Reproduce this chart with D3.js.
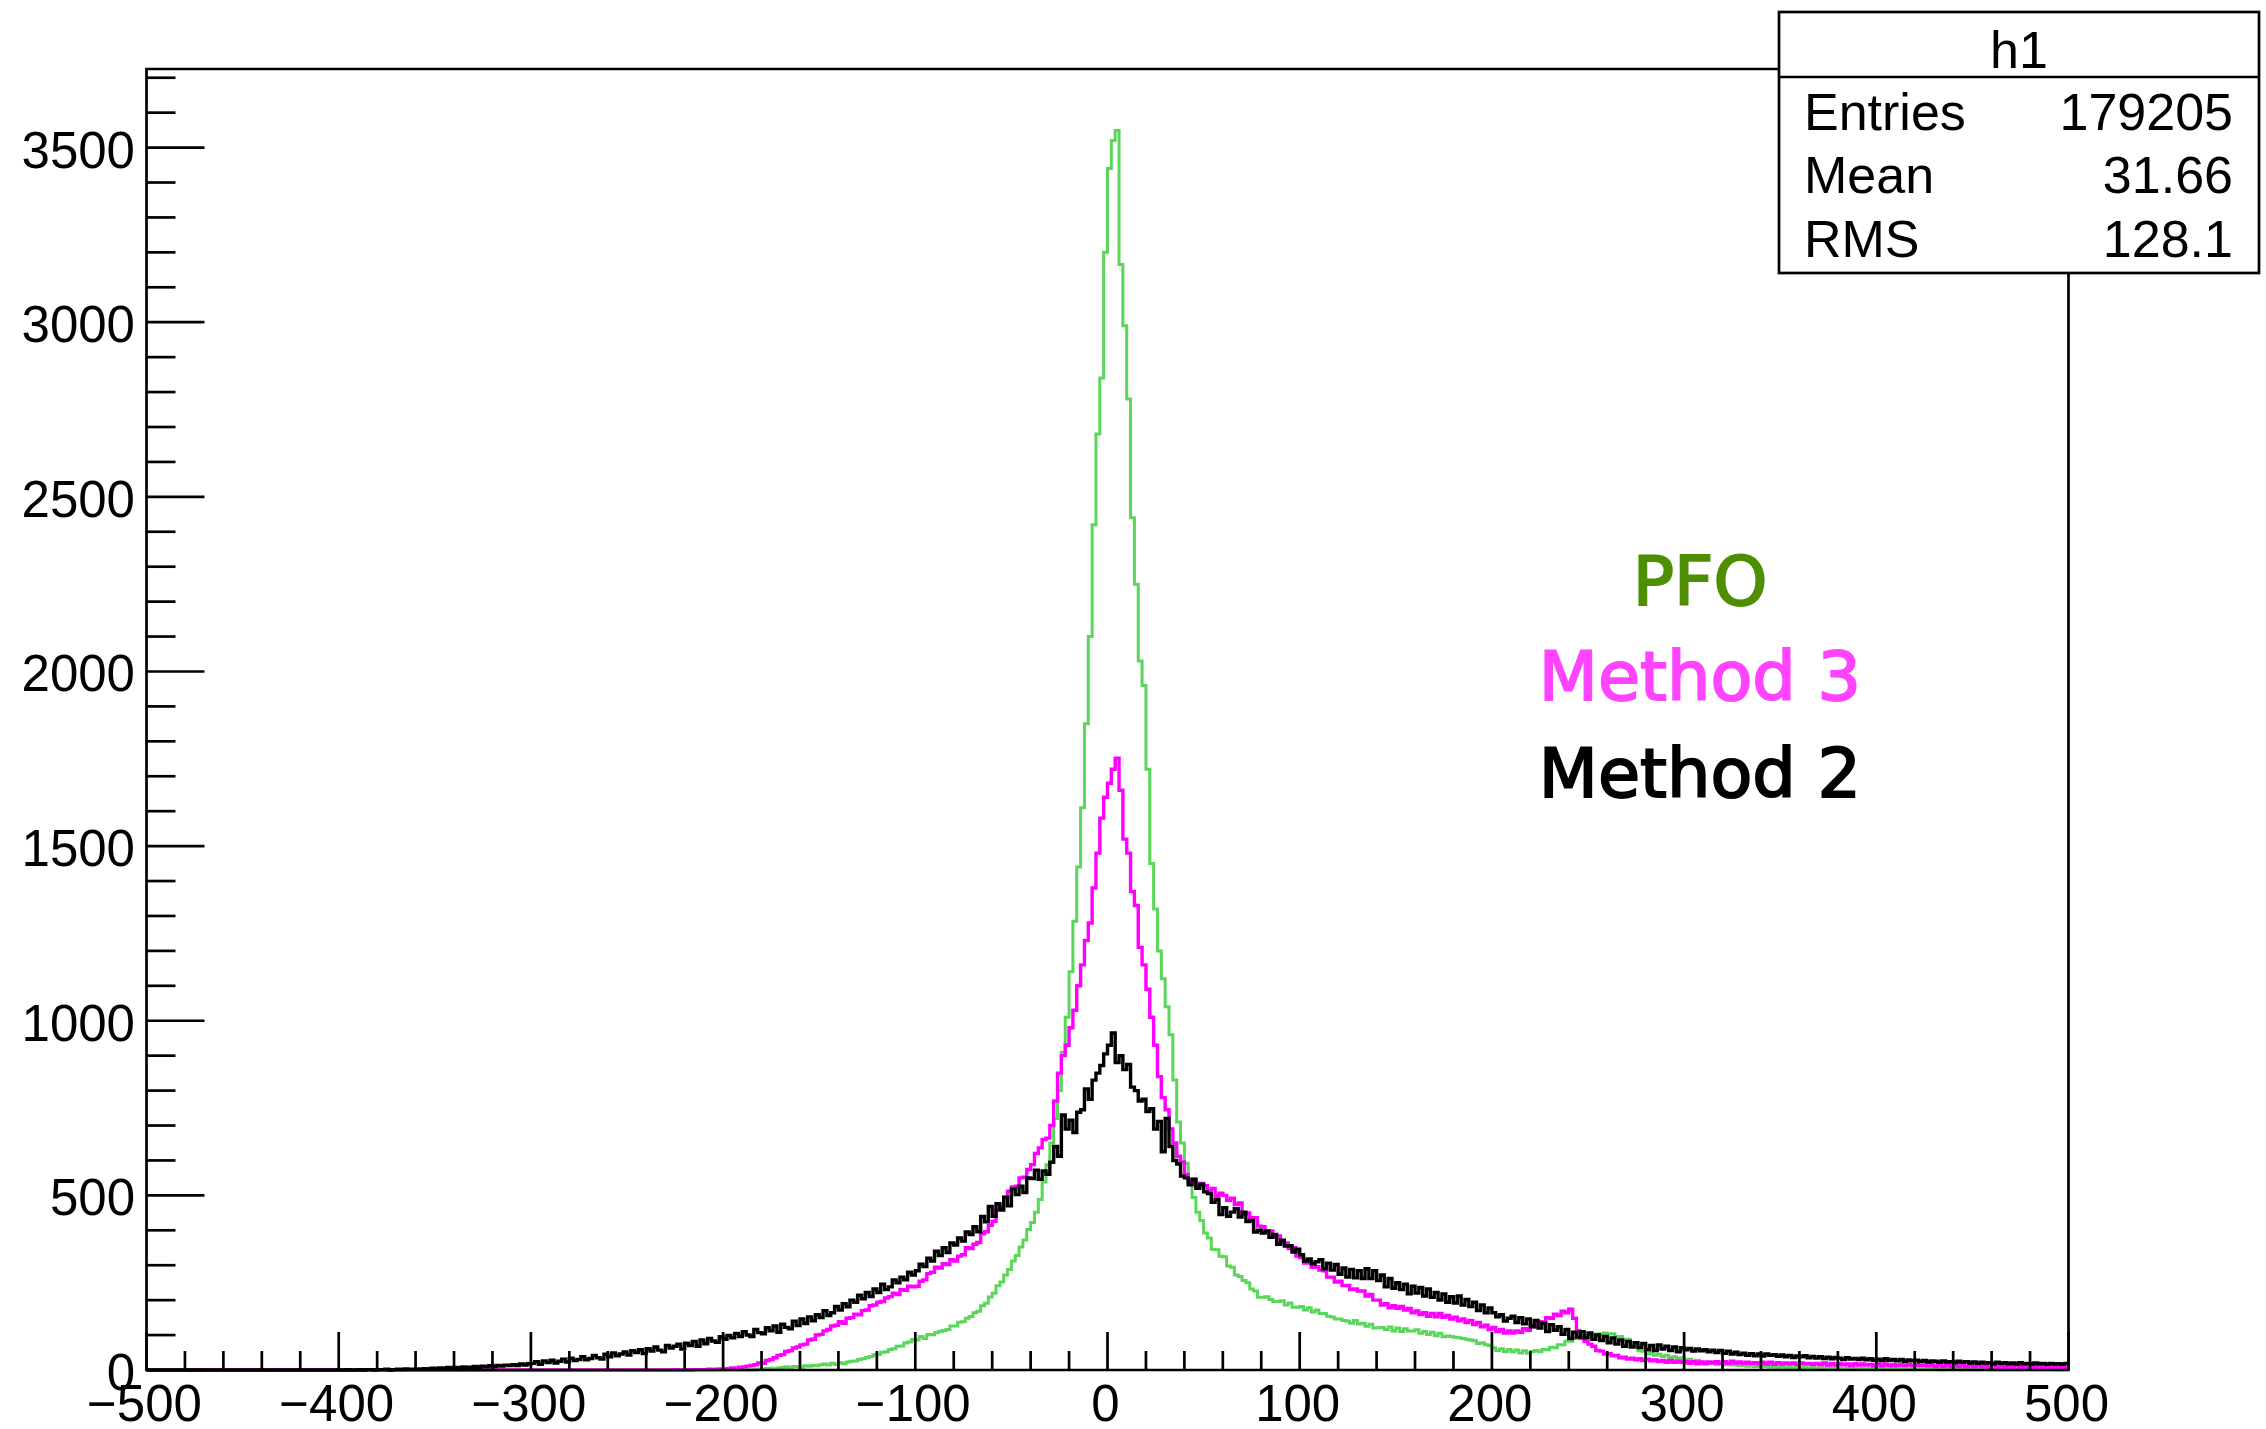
<!DOCTYPE html>
<html>
<head>
<meta charset="utf-8">
<script src="https://cdn.jsdelivr.net/npm/d3@7"></script>
<style>
  html, body { margin: 0; padding: 0; background: #fff; }
  svg { display: block; }
</style>
</head>
<body>
<svg id="chart" width="2266" height="1429"></svg>
<script>
// ---- histogram binning ----
const binWidth = 2;
const xRange = [-500, 500];
const yTop = 3725;

// axis ticks
const xMajorTicks = [-500, -400, -300, -200, -100, 0, 100, 200, 300, 400, 500];
const yMajorTicks = [0, 500, 1000, 1500, 2000, 2500, 3000, 3500];

// ---- PFO (green), first bin starts at pfoStart ----
const pfoStart = -190;
const pfoCounts = [
  0,1,0,2,3, 2,4,5,3,6, 7,9,6,10,9, 8,12,11,13,12, 15,17,14,19,16, 21,18,23,25,26, 30,32,36,39,44, 45,51,52,59,61, 68,69,77,80,87,
  86,96,90,102,101, 107,110,113,116,126, 126,137,138,148,153, 164,168,184,191,209, 220,241,252,272,288, 312,328,352,372,402, 422,452,488,538,588,
  650,720,800,910,1010, 1140,1285,1440,1610,1850, 2100,2420,2680,2840,3200,
  3440,3520,3549,3165,2990, 2780,2440,2250,2030,1960, 1720,1450,1320,1200,1120, 1040,960,830,710,650,
  592,536,494,452,428, 392,378,346,344,326, 324,298,294,272,268, 256,250,232,226,208, 208,210,202,196,196, 198,186,192,180,180,
  182,172,178,166,172, 162,162,154,152,146, 146,142,140,134,142, 132,134,125,131,120, 121,122,116,123,112,
  120,110,118,112,112, 115,105,110,102,108, 98,105,95,97,96, 94,92,90,88,86, 84,76,78,72,70,
  64,56,61,53,59, 52,57,49,55,48, 53,56,52,59,58, 65,64,72,72,82, 82,90,90,97,96,
  102,101,103,104,106, 103,104,96,96,88, 88,76,70,55,54, 46,48,42,45,39, 42,36,38,33,35,
  29,31,25,28,22, 23,19,22,16,18, 15,16,14,15,12, 13,11,12,10,11, 9,10,8,9,7,
  9,6,8,6,7, 6,7,5,7,5, 6,4,6,4,5, 5,3,5,4,4, 3,4,3,4,4,
  3,4,2,3,4, 2,3,3,2,3, 3,2,2,2,2, 2,3,1,2,2, 2,2,1,2,1,
  2,1,2,2,1, 1,2,1,1,2, 1,1,1,2,1, 1,1,1,1,1, 1,1,0,1,1
];

// ---- Method 3 (magenta) ----
const method3Start = -230;
const method3Counts = [
  0,0,1,0,0, 1,0,1,1,1, 1,2,1,2,3,
  3,4,6,5,8, 9,11,13,15,20, 19,27,30,35,42, 44,53,55,63,66, 72,74,86,88,100,
  102,112,116,126,128, 138,134,148,150,160, 158,170,172,184,186, 194,196,206,210,220, 216,230,228,240,238,
  240,254,258,276,280, 294,292,304,302,316, 312,326,330,350,348, 360,365,390,396,414, 426,460,466,494,512,
  524,526,550,552,574, 588,620,636,660,664, 700,770,850,900,930, 980,1030,1100,1160,1230, 1280,1380,1480,1580,1640,
  1680,1720,1752,1660,1520, 1480,1370,1330,1210,1160, 1090,1010,930,840,780, 745,690,650,612,596, 560,540,548,526,534,
  528,512,520,498,506, 500,486,492,474,478, 446,450,436,436,412, 410,396,398,380,384, 366,364,348,350,326,
  322,306,308,294,296, 286,284,266,266,252, 254,242,242,230,232, 226,226,212,216,200, 200,186,190,178,184,
  177,182,172,176,164, 169,159,164,154,162, 152,162,151,156,146, 151,141,146,136,142, 130,136,124,128,116,
  122,110,116,106,112, 106,112,108,118,114, 128,124,138,136,150, 148,160,156,168,164, 174,148,112,90,82,
  74,68,56,54,46, 47,41,42,35,37, 31,34,29,32,27, 31,26,29,24,27, 22,27,22,25,22,
  24,19,24,18,23, 18,23,20,24,19, 24,19,25,20,23, 19,22,19,21,18, 22,17,22,16,21,
  17,20,17,20,16, 20,17,19,16,19, 15,20,14,19,14, 18,15,17,13,18, 14,17,14,16,12,
  17,12,17,12,16, 12,15,12,16,12, 15,12,14,11,15, 10,15,10,15,10, 14,10,14,9,14,
  9,14,9,12,8, 13,8,13,8,12, 8,13,8,11,8, 11,7,12,7,11, 7,11,7,10,6
];

// ---- Method 2 (black) ----
const method2Start = -400;
const method2Counts = [
  0,0,1,0,0, 1,0,1,1,0, 1,1,2,0,1, 2,1,3,2,2, 3,2,4,2,5, 4,6,4,7,5, 7,6,9,7,8, 10,8,11,9,12, 10,13,11,14,13, 15,13,17,14,18,
  19,24,16,26,21, 28,20,25,31,23, 34,27,30,38,29, 33,42,35,31,45, 38,49,41,46,52, 43,55,50,58,47, 61,54,66,57,52, 70,63,68,74,60, 77,70,82,68,86, 75,90,83,79,95,
  88,99,92,105,96, 110,100,96,116,107, 104,121,112,126,108, 131,122,118,140,127, 146,133,152,141,158, 150,170,156,164,182, 172,190,181,200,194, 214,204,222,210,232, 222,246,230,238,258, 250,266,258,280,272,
  284,303,296,320,312, 340,328,350,336,364, 358,378,369,395,388, 410,396,440,424,468, 440,476,458,495,470, 518,502,526,508,550, 548,572,546,570,560, 595,640,612,730,690, 715,680,738,745,805, 775,830,850,872,905,
  930,965,880,900,860, 875,810,800,770,775, 740,748,690,712,625, 720,640,600,590,555, 550,530,545,520,532, 510,505,480,488,445, 465,440,452,462,438, 452,425,428,395,400, 392,398,380,388,360, 372,355,356,338,346,
  330,312,318,304,310, 316,290,306,286,302, 274,292,266,288,264, 284,262,290,262,284, 256,272,238,262,234, 250,230,246,218,240, 220,236,212,232,208, 222,200,218,194,210, 192,212,186,202,182, 194,170,186,164,178,
  164,152,158,140,148, 154,136,150,132,146, 124,142,120,134,110, 130,114,124,102,116, 90,108,94,110,92, 106,88,100,84,96, 78,92,74,86,68, 82,66,78,64,76, 58,70,56,72,60, 68,56,66,52,64,
  58,62,54,60,55, 58,52,57,50,56, 48,54,46,51,44, 48,42,47,41,46, 40,46,42,44,39, 43,38,42,36,40, 38,41,35,39,34, 38,33,37,32,36, 34,30,35,31,33, 30,34,29,32,28,
  31,27,32,28,30, 26,30,25,29,26, 28,24,27,23,26, 25,22,26,23,24, 21,25,22,24,20, 23,19,22,20,21, 18,22,19,21,18, 20,17,21,18,19, 17,20,18,19,16, 19,17,18,16,19
];

// legend and statistics box text
const legendLabels = ["PFO", "Method 3", "Method 2"];
const legendColors = ["#4d8f00", "#ff44ff", "#000000"];
const statsTitle = "h1";
const statsNames = ["Entries", "Mean", "RMS"];
const statsValues = ["179205", "31.66", "128.1"];

// ---- drawing ----
const svg = d3.select("#chart");
const frame = { left: 146.5, right: 2068.5, top: 69, bottom: 1370 };
const x = d3.scaleLinear().domain(xRange).range([frame.left, frame.right]);
const y = d3.scaleLinear().domain([0, yTop]).range([frame.bottom, frame.top]);
const axisFont = "'Liberation Sans', Arial, Helvetica, sans-serif";

svg.append("rect").attr("width", 2266).attr("height", 1429).attr("fill", "#fff");

svg.append("defs").append("clipPath").attr("id", "plotClip")
  .append("rect")
  .attr("x", frame.left).attr("y", frame.top - 2)
  .attr("width", frame.right - frame.left).attr("height", frame.bottom - frame.top + 4);

// expand a partial count list into the full set of bin edges
function binPoints(start, counts) {
  const n = Math.round((xRange[1] - xRange[0]) / binWidth);
  const vals = new Array(n).fill(0);
  const off = Math.round((start - xRange[0]) / binWidth);
  counts.forEach((c, i) => { if (off + i >= 0 && off + i < n) vals[off + i] = c; });
  const pts = vals.map((v, k) => [xRange[0] + k * binWidth, v]);
  pts.push([xRange[1], vals[n - 1]]);
  return pts;
}

const stepLine = d3.line()
  .x(d => x(d[0]))
  .y(d => y(d[1]))
  .curve(d3.curveStepAfter);

const series = [
  { start: pfoStart, counts: pfoCounts, color: "#5ad65a", width: 3 },
  { start: method3Start, counts: method3Counts, color: "#ff00ff", width: 3.4 },
  { start: method2Start, counts: method2Counts, color: "#000000", width: 3.4 }
];

const histG = svg.append("g").attr("clip-path", "url(#plotClip)");
series.forEach(s => {
  histG.append("path")
    .datum(binPoints(s.start, s.counts))
    .attr("d", stepLine)
    .attr("fill", "none")
    .attr("stroke", s.color)
    .attr("stroke-width", s.width)
    .attr("stroke-linejoin", "miter");
});

// frame
const axisG = svg.append("g").attr("stroke", "#000").attr("stroke-width", 2.7).attr("fill", "none");
axisG.append("path")
  .attr("d", `M${frame.left},${frame.bottom} L${frame.left},${frame.top} L${frame.right},${frame.top} L${frame.right},${frame.bottom} Z`)
  .attr("stroke-linejoin", "miter");

// y ticks (inside, pointing right)
const yMinor = d3.range(0, yTop, 100);
axisG.selectAll("line.ytick").data(yMinor).join("line")
  .attr("x1", frame.left).attr("x2", d => frame.left + (d % 500 === 0 ? 58 : 29))
  .attr("y1", d => y(d)).attr("y2", d => y(d));

// x ticks (inside, pointing up)
const xMinor = d3.range(xRange[0], xRange[1] + 1, 20);
axisG.selectAll("line.xtick").data(xMinor).join("line")
  .attr("x1", d => x(d)).attr("x2", d => x(d))
  .attr("y1", frame.bottom).attr("y2", d => frame.bottom - (d % 100 === 0 ? 38 : 19));

const fmt = d3.format("d");
svg.append("g").selectAll("text").data(yMajorTicks).join("text")
  .attr("x", 135).attr("y", d => y(d) + 20)
  .attr("text-anchor", "end")
  .attr("font-family", axisFont).attr("font-size", 51)
  .text(d => fmt(d));

svg.append("g").selectAll("text").data(xMajorTicks).join("text")
  .attr("x", d => x(d) - 2).attr("y", 1421)
  .attr("text-anchor", "middle")
  .attr("font-family", axisFont).attr("font-size", 51)
  .text(d => fmt(d));

// legend text
const legendFont = "'DejaVu Sans', Verdana, sans-serif";
const legendY = [605, 700, 797];
svg.append("g").selectAll("text").data(legendLabels).join("text")
  .attr("x", 1700).attr("y", (d, i) => legendY[i])
  .attr("text-anchor", "middle")
  .attr("font-family", legendFont).attr("font-size", 68.5)
  .attr("fill", (d, i) => legendColors[i])
  .attr("stroke", (d, i) => legendColors[i])
  .attr("stroke-width", 2)
  .text(d => d);

// statistics box
const box = { x0: 1779, x1: 2259, y0: 12, y1: 273, split: 77 };
const statsG = svg.append("g");
statsG.append("rect")
  .attr("x", box.x0).attr("y", box.y0)
  .attr("width", box.x1 - box.x0).attr("height", box.y1 - box.y0)
  .attr("fill", "#fff").attr("stroke", "#000").attr("stroke-width", 2.7);
statsG.append("line")
  .attr("x1", box.x0).attr("x2", box.x1)
  .attr("y1", box.split).attr("y2", box.split)
  .attr("stroke", "#000").attr("stroke-width", 2.7);
statsG.append("text")
  .attr("x", (box.x0 + box.x1) / 2).attr("y", 68)
  .attr("text-anchor", "middle")
  .attr("font-family", axisFont).attr("font-size", 52)
  .text(statsTitle);
const rowY = [130, 193, 257];
statsG.selectAll("text.name").data(statsNames).join("text")
  .attr("class", "name")
  .attr("x", 1804).attr("y", (d, i) => rowY[i])
  .attr("font-family", axisFont).attr("font-size", 52)
  .text(d => d);
statsG.selectAll("text.val").data(statsValues).join("text")
  .attr("class", "val")
  .attr("x", 2233).attr("y", (d, i) => rowY[i])
  .attr("text-anchor", "end")
  .attr("font-family", axisFont).attr("font-size", 52)
  .text(d => d);
</script>
</body>
</html>
